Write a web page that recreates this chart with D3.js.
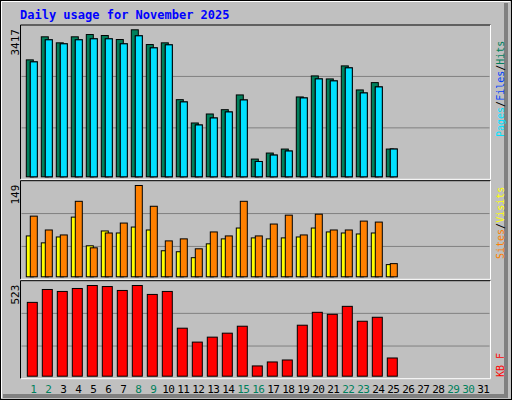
<!DOCTYPE html>
<html><head><meta charset="utf-8">
<script src="https://cdn.jsdelivr.net/npm/d3@7"></script>
<style>body{margin:0;background:#fff}svg{display:block}</style>
</head><body><svg id="c" width="512" height="400"></svg>
<script>
const days = d3.range(1, 32);
const weekend = [1,2,8,9,15,16,22,23,29,30];
const hits  = [2718,3254,3114,3254,3307,3284,3191,3417,3074,3114,1793,1251,1460,1560,1903,412,552,645,1856,2345,2275,2578,2019,2189,645];
const files = [2671,3184,3091,3184,3207,3207,3091,3277,2997,3067,1740,1204,1367,1507,1786,356,505,599,1833,2275,2229,2532,1949,2089,645];
const pages = files;
const visits = [66.7,55.4,65,97.4,50.6,74.8,71.5,81.2,76.4,42.5,40.9,31.2,53.8,61.9,79.6,63.5,61.9,63.5,65,79.6,73.2,71.5,69.9,71.5,19.9];
const sites  = [99,76.4,68.3,123.2,47.3,71.5,87.7,149,115.1,58.6,61.9,45.7,73.2,66.7,123.2,66.7,86.1,100.6,68.3,102.2,76.4,76.4,90.9,89.3,21.5];
const kbytes = [425.7,500,488.7,505.8,523,517,494.4,523,471.5,488.7,276.8,196.6,225.2,248.1,288.2,59.2,82.1,93.5,294,368.4,357,402.8,316.9,339.8,105];
const maxLabels = ["3417","149","523"];

const svg = d3.select("#c");
svg.append("rect").attr("x",0.5).attr("y",0.5).attr("width",511).attr("height",399).attr("fill","#c0c0c0").attr("stroke","#000");
svg.append("path").attr("d","M1.5,398V1.5H510").attr("stroke","#fff").attr("fill","none");
svg.append("path").attr("d","M506,3V396H3").attr("stroke","#808080").attr("stroke-width",4).attr("fill","none");

svg.append("text").attr("x",20).attr("y",19).text("Daily usage for November 2025")
  .attr("font-family","DejaVu Sans Mono").attr("font-weight","bold").attr("font-size",12).attr("fill","#0000ff");

const x = d3.scaleBand().domain(days).range([25.8,490.8]).padding(0);
const L = 20.5, R = 490.5;
const panels = [{t:25,b:179.3},{t:180.7,b:279.3},{t:280.7,b:378.7}];
panels.forEach(p=>{
  svg.append("path").attr("d",`M${L},${p.b}V${p.t}H${R}`).attr("stroke","#000").attr("fill","none");
  svg.append("path").attr("d",`M${R},${p.t}V${p.b}H${L}`).attr("stroke","#fff").attr("fill","none");
  const h=(p.b-p.t)/3;
  [1,2].forEach(k=>svg.append("line").attr("x1",L+1).attr("x2",R-1).attr("y1",p.t+h*k).attr("y2",p.t+h*k).attr("stroke","#808080"));
});
function yS(p,max){return d3.scaleLinear().domain([0,max]).range([p.b-3,p.t+4.3]);}
function bars(data,y,xo,w,color){
  svg.append("g").selectAll("rect").data(data).join("rect")
    .attr("x",(d,i)=>x(i+1)+xo+0.5).attr("width",w)
    .attr("y",d=>y(d)+0.5).attr("height",d=>y(0)-y(d))
    .attr("fill",color).attr("stroke","#000");
}
const y1=yS(panels[0],d3.max(hits));
bars(hits,y1,0,7,"#00805c");
bars(files,y1,4,7,"#0040ff");
bars(pages,y1,4,7,"#00e0ff");
const y2=yS(panels[1],d3.max(sites));
bars(visits,y2,0,7,"#ffff00");
bars(sites,y2,4,7,"#ff8000");
const y3=yS(panels[2],d3.max(kbytes));
bars(kbytes,y3,1,10,"#ff0000");

const mono="DejaVu Sans Mono";
[[panels[0].t+4,maxLabels[0]],[panels[1].t+4,maxLabels[1]],[panels[2].t+4,maxLabels[2]]].forEach(([yy,t])=>{
  svg.append("text").attr("transform",`translate(19,${yy}) rotate(-90)`).attr("text-anchor","end")
    .attr("font-family",mono).attr("font-size",11).attr("fill","#000").text(t);
});
function rlabel(yBottom, parts){
  const t=svg.append("text").attr("transform",`translate(504,${yBottom}) rotate(-90)`)
    .attr("font-family",mono).attr("font-size",10);
  parts.forEach(([s,c])=>t.append("tspan").attr("fill",c).text(s));
}
rlabel(137,[["Pages","#00e0ff"],["/","#000"],["Files","#0040ff"],["/","#000"],["Hits","#00805c"]]);
rlabel(259,[["Sites","#ff8000"],["/","#000"],["Visits","#ffff00"]]);
rlabel(377,[["KB F","#ff0000"]]);

svg.append("g").selectAll("text").data(days).join("text")
  .attr("x",d=>x(d)+x.bandwidth()/2).attr("y",393).attr("text-anchor","middle")
  .attr("font-family",mono).attr("font-size",11).attr("letter-spacing",-0.5)
  .attr("fill",d=>weekend.includes(d)?"#00805c":"#000").text(d=>d);
</script></body></html>
